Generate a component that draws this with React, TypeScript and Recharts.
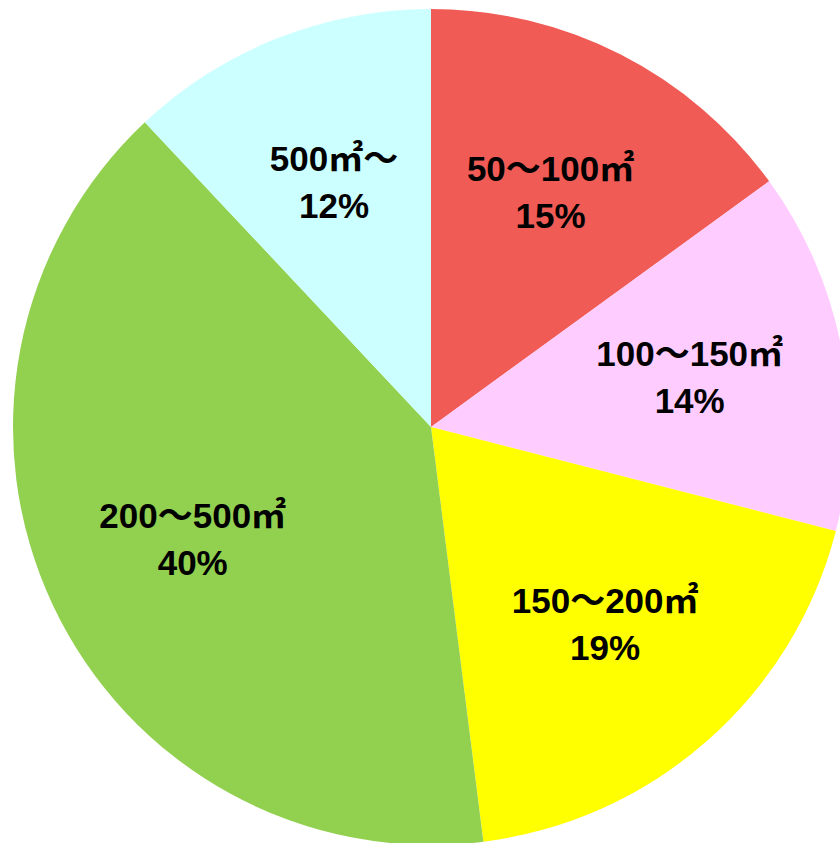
import React from 'react';
import { PieChart, Pie, Cell } from 'recharts';

const CATEGORIES = ['50〜100㎡', '100〜150㎡', '150〜200㎡', '200〜500㎡', '500㎡〜'];
const SHARES = [15, 14, 19, 40, 12];
const COLORS = ['#F15B55', '#FFCCFF', '#FFFF00', '#92D050', '#CCFFFF'];

const data = CATEGORIES.map((name, i) => ({ name, value: SHARES[i] }));

const RADIAN = Math.PI / 180;

const renderLabel = (props: any) => {
  const { cx, cy, midAngle, outerRadius, name, value } = props;
  const r = outerRadius * 0.63;
  const x = cx + r * Math.cos(-midAngle * RADIAN);
  const y = cy + r * Math.sin(-midAngle * RADIAN);
  return (
    <text
      x={x}
      y={y}
      textAnchor="middle"
      fill="#000"
      fontSize={35}
      fontWeight="bold"
      fontFamily='"Liberation Sans", Arial, "Noto Sans CJK JP", sans-serif'
    >
      <tspan x={x} y={y - 11.5}>{name}</tspan>
      <tspan x={x} y={y + 35.5}>{`${value}%`}</tspan>
    </text>
  );
};

export default function App() {
  return (
    <div style={{ position: 'fixed', left: 0, top: 0, width: 840, height: 843, background: '#fff' }}>
      <PieChart width={840} height={843} margin={{ top: 0, right: 0, bottom: 0, left: 0 }}>
        <Pie
          data={data}
          dataKey="value"
          nameKey="name"
          cx={431}
          cy={427}
          outerRadius={418}
          startAngle={90}
          endAngle={-270}
          stroke="none"
          label={renderLabel}
          labelLine={false}
          isAnimationActive={false}
        >
          {data.map((entry, i) => (
            <Cell key={entry.name} fill={COLORS[i]} />
          ))}
        </Pie>
      </PieChart>
    </div>
  );
}
